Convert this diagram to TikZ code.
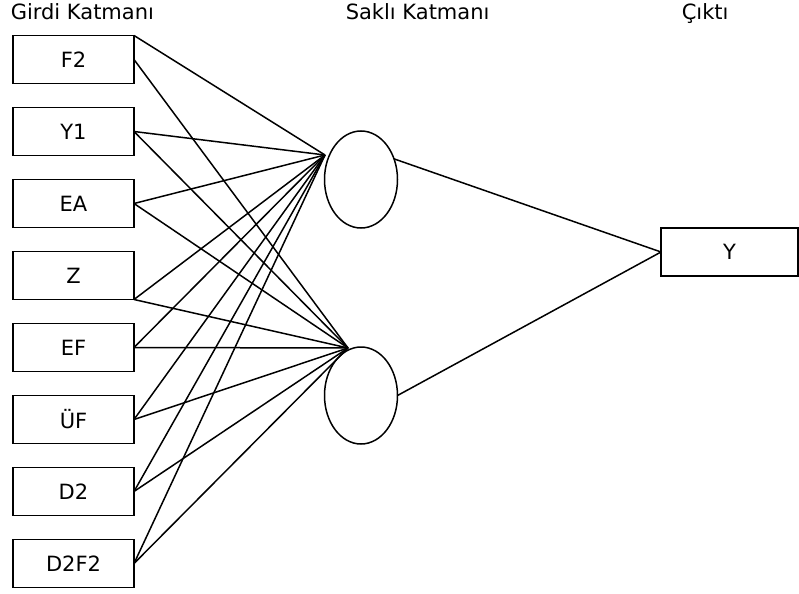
\documentclass[tikz,border=0pt]{standalone}
\usepackage{fontspec}
\setmainfont{DejaVu Sans}
\usetikzlibrary{positioning,shapes.geometric}

\begin{document}
\begin{tikzpicture}[x=0.5pt, y=-0.5pt, font=\fontsize{10.5}{12.6}\selectfont, line width=0.75pt, node distance=12pt,
    inbox/.style={draw, minimum width=60.5pt, minimum height=24pt, inner sep=0pt, outer sep=0pt},
    hidnode/.style={draw, ellipse, minimum width=36.5pt, minimum height=48.5pt, inner sep=0pt, outer sep=0pt},
    title/.style={anchor=base west, inner sep=0pt}]
            \useasboundingbox (0,0) rectangle (799,594);
            % layer titles
            \node[title] (tin) at (10,19) {Girdi Katmanı};
            \node[title] (thid) at (345,19) {Saklı Katmanı};
            \node[title] (tout) at (681,19) {Çıktı};
            % input layer
            \node[inbox] (f2) at (73.5,59.5) {F2};
            \node[inbox, below=of f2] (y1) {Y1};
            \node[inbox, below=of y1] (ea) {EA};
            \node[inbox, below=of ea] (z) {Z};
            \node[inbox, below=of z] (ef) {EF};
            \node[inbox, below=of ef] (uf) {ÜF};
            \node[inbox, below=of uf] (d2) {D2};
            \node[inbox, below=of d2] (d2f2) {D2F2};
            % hidden layer and output
            \node[hidnode] (h1) at (361,179.5) {};
            \node[hidnode] (h2) at (361,395.5) {};
            \coordinate (h1in) at (325,155);
            \coordinate (h2in) at (348,348);
            \node[inbox, minimum width=68.5pt] (out) at (729.5,252) {Y};
            % connections
            \draw (f2.north east) -- (h1in);
            \draw (f2.east) -- (h2in);
            \draw (y1.east) -- (h1in);
            \draw (y1.east) -- (h2in);
            \draw (ea.east) -- (h1in);
            \draw (ea.east) -- (h2in);
            \draw (z.south east) -- (h1in);
            \draw (z.south east) -- (h2in);
            \draw (ef.east) -- (h1in);
            \draw (ef.east) -- (h2in);
            \draw (uf.east) -- (h1in);
            \draw (uf.east) -- (h2in);
            \draw (d2.east) -- (h1in);
            \draw (d2.east) -- (h2in);
            \draw (d2f2.east) -- (h1in);
            \draw (d2f2.east) -- (h2in);
            \draw (h1.32) -- (out.west);
            \draw (h2.east) -- (out.west);
        \end{tikzpicture}
\end{document}
